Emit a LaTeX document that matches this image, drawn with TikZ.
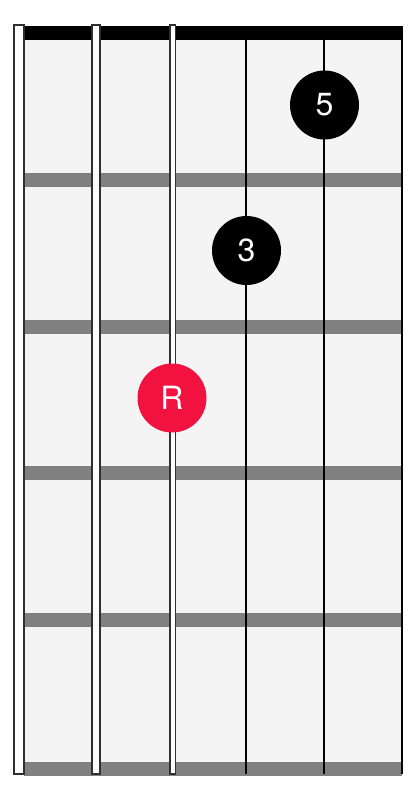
\documentclass[tikz,border=0pt]{standalone}
\usepackage{fontspec}
\setmainfont{TeX Gyre Heros}
\usepackage{xcolor}
\definecolor{board}{HTML}{F4F4F4}
\definecolor{fretgray}{HTML}{808080}
\definecolor{rootred}{HTML}{F2123F}
\definecolor{wire}{HTML}{303030}
\begin{document}
\begin{tikzpicture}[x=1pt,y=-1pt,
  note/.style={circle, fill=black, text=white, minimum size=69pt, inner sep=0pt, font=\fontsize{32}{32}\selectfont},
  wound/.style={draw=wire, fill=white, line width=1.8pt},
  plain/.style={draw=black, line width=2pt}]
\useasboundingbox (0,0) rectangle (418,792);
  % board, frets and nut
  \fill[board] (24,40) rectangle (402,762);
  \foreach \y in {173,320,466,613,762}
    \fill[fretgray] (24,\y) rectangle (402,\y+13.5);
  \fill[black] (24,26) rectangle (403,40);
  % wound strings
  \draw[wound] (13.8,25) rectangle (24.2,774);
  \draw[wound] (92,25) rectangle (99.6,774);
  \draw[wound] (169.8,25) rectangle (175.4,774);
  % plain strings
  \coordinate (G4) at (246,26);
  \coordinate (B5) at (324,26);
  \coordinate (E6) at (402,26);
  \draw[plain] (G4) -- ++(0,748);
  \draw[plain] (B5) -- ++(0,748);
  \draw[plain] (E6) -- ++(0,748);
  % chord tones
  \node[note] (fifth) at (324.5,105) {5};
  \node[note] (third) at (246.5,250.5) {3};
  \node[note, fill=rootred] (root) at (172,398) {R};
\end{tikzpicture}
\end{document}
